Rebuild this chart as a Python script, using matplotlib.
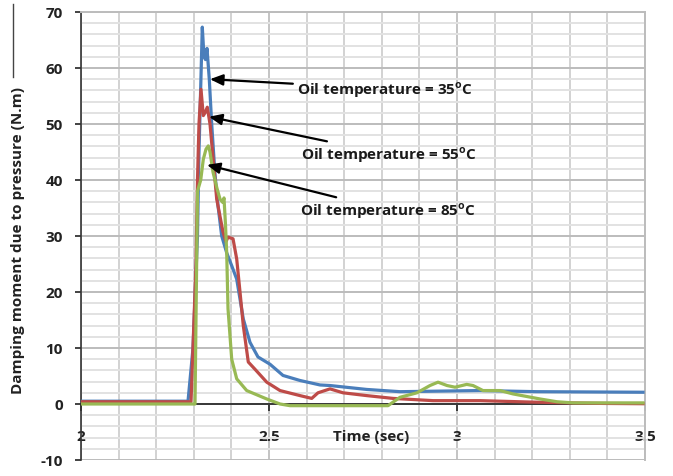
import matplotlib
matplotlib.use('Agg')
import matplotlib.pyplot as plt
from matplotlib.ticker import MultipleLocator, FixedLocator, FixedFormatter
from matplotlib.lines import Line2D

plt.rcParams['font.family'] = ['Open Sans', 'DejaVu Sans']
plt.rcParams['mathtext.fontset'] = 'custom'
plt.rcParams['mathtext.rm'] = 'Open Sans'
plt.rcParams['mathtext.bf'] = 'Open Sans:bold'
plt.rcParams['axes.unicode_minus'] = False

# oil temperature 35 C
t_35 = [2.0, 2.2846, 2.2979, 2.3098, 2.3138, 2.3226, 2.3271, 2.3311, 2.3351,
        2.3412, 2.3476, 2.3564, 2.3644, 2.3742, 2.3875, 2.4008, 2.4141, 2.4316, 2.4495,
        2.4707, 2.5027, 2.5372, 2.5824, 2.6356, 2.6622, 2.7598, 2.8484, 3.0612, 3.2120, 3.4947]
m_35 = [0.5, 0.5, 10.0, 30.0, 45.0, 67.3, 62.0, 61.5, 63.5,
        58.0, 50.0, 41.0, 35.4, 30.0, 27.0, 24.7, 22.3, 15.2, 11.0,
        8.4, 7.1, 5.1, 4.2, 3.4, 3.3, 2.6, 2.2, 2.4, 2.2, 2.1]

# oil temperature 55 C
t_55 = [2.0, 2.2926, 2.3059, 2.3098, 2.3138, 2.3191, 2.3253, 2.3298, 2.3359,
        2.3431, 2.3511, 2.3609, 2.3777, 2.3856, 2.3910, 2.4043, 2.4141, 2.4229, 2.4316,
        2.4449, 2.4628, 2.4939, 2.5293, 2.5824, 2.6136, 2.6303, 2.6622, 2.6968, 2.7598,
        2.8298, 2.9362, 3.0612, 3.1941, 3.3005, 3.3883, 3.4947]
m_55 = [0.4, 0.4, 25.0, 40.0, 50.0, 56.2, 51.5, 52.0, 53.0,
        50.0, 44.0, 36.6, 30.7, 29.0, 29.8, 29.5, 25.9, 20.0, 14.0,
        7.5, 6.2, 3.9, 2.4, 1.5, 1.0, 2.0, 2.7, 2.0, 1.5,
        1.0, 0.6, 0.6, 0.35, 0.2, 0.1, 0.05]

# oil temperature 85 C
t_85 = [2.0, 2.3032, 2.3098, 2.3184, 2.3253, 2.3324, 2.3386, 2.3431,
        2.3511, 2.3617, 2.3697, 2.3769, 2.3803, 2.3843, 2.3875, 2.3910, 2.4008, 2.4141,
        2.4407, 2.4939, 2.5293, 2.5559, 2.8165, 2.8484, 2.8936, 2.9282, 2.9495, 2.9734,
        2.9947, 3.0258, 3.0426, 3.0691, 3.1144, 3.1489, 3.2207, 3.2660, 3.3085, 3.4947]
m_85 = [0.0, 0.0, 38.0, 40.0, 43.7, 45.5, 46.1, 45.0,
        41.4, 38.5, 36.6, 36.0, 36.8, 32.0, 27.0, 17.0, 8.0, 4.5,
        2.4, 0.9, 0.0, -0.3, -0.3, 1.2, 2.0, 3.3, 3.9, 3.3,
        3.0, 3.5, 3.3, 2.4, 2.4, 1.8, 0.9, 0.4, 0.2, 0.2]

x_ticks = [2.0, 2.5, 3.0, 3.5]
x_labels = ['2', '2.5', '3', '3.5']

labels = [r'Oil temperature = 35$^\mathbf{o}$C',
          r'Oil temperature = 55$^\mathbf{o}$C',
          r'Oil temperature = 85$^\mathbf{o}$C']
tips = [(2.343, 58.0), (2.3404, 51.3), (2.335, 42.7)]
text_pos = [(2.5745, 56.3), (2.585, 44.6), (2.5824, 34.6)]

fig = plt.figure(figsize=(6.73, 4.77), dpi=100)
ax = fig.add_axes([81/673, 1-461/477, (645-81)/673, (461-13)/477])

ax.plot(t_35, m_35, color='#4a7ebb', lw=2.3, zorder=3)
ax.plot(t_55, m_55, color='#be4b48', lw=2.3, zorder=3)
ax.plot(t_85, m_85, color='#98b954', lw=2.3, zorder=3)

ax.set_xlim(2, 3.5)
ax.set_ylim(-10, 70)

ax.xaxis.set_major_locator(FixedLocator(x_ticks))
ax.xaxis.set_major_formatter(FixedFormatter(x_labels))
ax.xaxis.set_minor_locator(MultipleLocator(0.1))
ax.yaxis.set_major_locator(MultipleLocator(10))
ax.yaxis.set_minor_locator(MultipleLocator(2))

ax.grid(which='major', axis='y', color='#bcbcbc', lw=1.4)
ax.grid(which='minor', axis='y', color='#e2e2e2', lw=1.4)
ax.grid(which='major', axis='x', color='#c4c4c4', lw=1.4)
ax.grid(which='minor', axis='x', color='#d2d2d2', lw=1.4)
ax.set_axisbelow(True)

ax.spines['bottom'].set_position(('data', 0))
ax.spines['bottom'].set_color('#222222')
ax.spines['bottom'].set_linewidth(1.2)
ax.spines['bottom'].set_zorder(2)
ax.spines['left'].set_color('#333333')
ax.spines['left'].set_linewidth(1.2)
ax.spines['top'].set_color('#bcbcbc')
ax.spines['right'].set_color('#bcbcbc')
ax.spines['top'].set_linewidth(1.4)
ax.spines['right'].set_linewidth(1.4)

ax.tick_params(axis='y', which='major', direction='out', length=4, width=1.2,
               pad=9, labelsize=11, colors='#222222')
ax.tick_params(axis='x', which='major', direction='out', length=5, width=1.2,
               pad=13, labelsize=11, colors='#222222')
ax.tick_params(which='minor', length=0)
for lab in ax.get_xticklabels() + ax.get_yticklabels():
    lab.set_fontweight('bold')

ax.text(2.67, -5.7, 'Time (sec)', fontsize=11, fontweight='bold', color='#222222',
        ha='left', va='center')

for lab, tip, pos in zip(labels, tips, text_pos):
    ax.annotate(lab, xy=tip, xytext=pos, fontsize=11, fontweight='bold',
                color='#1a1a1a', ha='left', va='center', zorder=5,
                arrowprops=dict(arrowstyle='-|>,head_length=0.7,head_width=0.3',
                                color='black', lw=1.6, shrinkA=1, shrinkB=0))

fig.text(18/673, 1-240/477, 'Damping moment due to pressure (N.m)', rotation=90,
         fontsize=11, fontweight='bold', color='#222222', ha='center', va='center')

fig.add_artist(Line2D([13/673, 13/673], [1-5/477, 1-78/477], color='#444444', lw=1.0))

fig.savefig('out.png', dpi=100)
